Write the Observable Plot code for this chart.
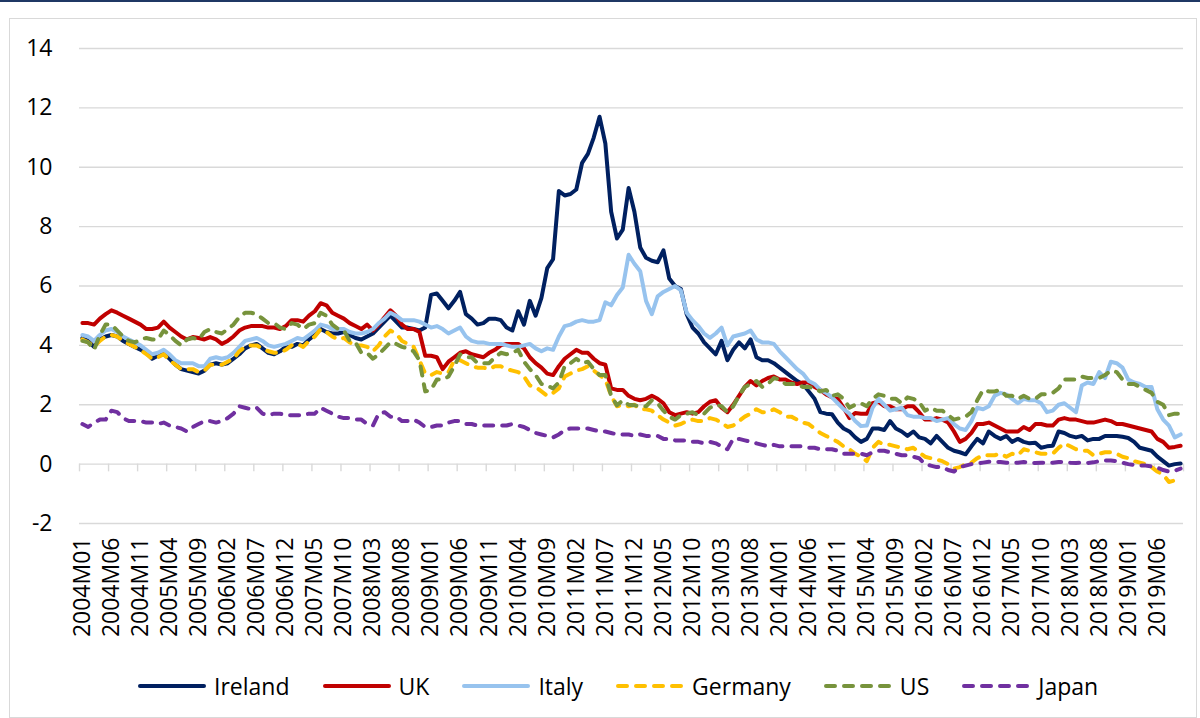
<!DOCTYPE html>
<html>
<head>
<meta charset="utf-8">
<script src="https://cdn.jsdelivr.net/npm/d3@7"></script>
<script src="https://cdn.jsdelivr.net/npm/@observablehq/plot@0.6"></script>
<style>
  html, body { margin: 0; padding: 0; background: #fff; overflow: hidden; }
  #wrap { position: relative; width: 1200px; height: 718px; font-family: "Open Sans", sans-serif; }
  #topbar { position: absolute; left: 0; top: 0; width: 1200px; height: 2px; background: #1F3864; }
  #frame { position: absolute; left: 9px; top: 18px; width: 1188px; height: 700px; border: 1.5px solid #D9D9D9; box-sizing: border-box; }
  #chart { position: absolute; left: 0; top: 0; }
  #legend { position: absolute; left: 137px; top: 670px; display: flex; align-items: center; font-size: 23px; color: #000; }
  .item { display: flex; align-items: center; margin-right: 32px; }
  .item svg { margin-right: 7px; }
</style>
</head>
<body>
<div id="wrap">
  <div id="topbar"></div>
  <div id="frame"></div>
  <div id="chart"></div>
  <div id="legend"></div>
</div>
<script>
// ---- Data: monthly 10-year government bond yields, 2004M01 .. 2019M10 ----
const startYear = 2004;
const nMonths = 190;
const months = [];
for (let k = 0; k < nMonths; k++) {
  const y = startYear + Math.floor(k / 12), m = (k % 12) + 1;
  months.push(`${y}M${String(m).padStart(2, "0")}`);
}

const xTickLabels = ["2004M01","2004M06","2004M11","2005M04","2005M09","2006M02","2006M07","2006M12",
  "2007M05","2007M10","2008M03","2008M08","2009M01","2009M06","2009M11","2010M04","2010M09","2011M02",
  "2011M07","2011M12","2012M05","2012M10","2013M03","2013M08","2014M01","2014M06","2014M11","2015M04",
  "2015M09","2016M02","2016M07","2016M12","2017M05","2017M10","2018M03","2018M08","2019M01","2019M06"];
const yTicks = [-2, 0, 2, 4, 6, 8, 10, 12, 14];

const ireland = [
  4.25,4.15,3.95,4.2,4.3,4.35,4.3,4.15,4.05,3.95,3.85,3.75,
  3.55,3.65,3.7,3.55,3.35,3.2,3.15,3.1,3.05,3.15,3.35,3.4,
  3.35,3.4,3.55,3.7,3.9,4.0,4.05,3.9,3.75,3.7,3.8,3.95,
  3.95,4.05,4.0,4.2,4.35,4.55,4.45,4.4,4.4,4.45,4.35,4.25,
  4.2,4.3,4.4,4.6,4.8,5.0,4.8,4.6,4.6,4.55,4.5,4.6,
  5.7,5.75,5.5,5.25,5.5,5.8,5.05,4.9,4.7,4.75,4.9,4.9,
  4.85,4.6,4.5,5.15,4.7,5.5,5.0,5.6,6.6,6.9,9.2,9.05,
  9.1,9.25,10.15,10.45,11.0,11.7,10.8,8.5,7.6,7.9,9.3,8.5,
  7.3,6.95,6.85,6.8,7.2,6.25,6.0,5.9,5.05,4.6,4.4,4.1,
  3.9,3.7,4.15,3.5,3.85,4.1,3.9,4.2,3.6,3.5,3.5,3.4,
  3.25,3.1,2.95,2.8,2.7,2.45,2.2,1.75,1.7,1.68,1.4,1.2,
  1.1,0.9,0.75,0.85,1.2,1.2,1.15,1.45,1.2,1.1,0.95,1.1,
  0.9,0.85,0.7,0.95,0.75,0.55,0.45,0.4,0.33,0.6,0.85,0.7,
  1.1,0.95,0.85,0.95,0.75,0.85,0.75,0.7,0.72,0.55,0.6,0.62,
  1.1,1.05,0.95,0.9,0.95,0.8,0.85,0.85,0.95,0.95,0.95,0.92,
  0.88,0.75,0.55,0.5,0.45,0.25,0.1,-0.05,0.0,0.02
];
const uk = [
  4.75,4.75,4.7,4.9,5.05,5.18,5.1,5.0,4.9,4.8,4.7,4.55,
  4.55,4.6,4.8,4.6,4.45,4.3,4.2,4.28,4.25,4.2,4.28,4.2,
  4.05,4.15,4.3,4.5,4.6,4.65,4.65,4.65,4.6,4.6,4.55,4.65,
  4.85,4.85,4.8,5.0,5.15,5.42,5.35,5.1,5.0,4.9,4.75,4.65,
  4.55,4.7,4.5,4.7,4.95,5.18,5.0,4.7,4.55,4.55,4.45,3.65,
  3.65,3.6,3.2,3.45,3.6,3.75,3.8,3.7,3.65,3.6,3.75,3.85,
  4.0,4.05,4.05,4.05,3.9,3.6,3.4,3.25,3.05,3.0,3.3,3.55,
  3.7,3.85,3.75,3.75,3.55,3.4,3.35,2.55,2.5,2.5,2.3,2.2,
  2.15,2.2,2.3,2.2,2.05,1.75,1.65,1.7,1.75,1.7,1.75,1.95,
  2.1,2.15,1.9,1.75,2.0,2.3,2.6,2.8,2.65,2.8,2.9,2.95,
  2.85,2.85,2.75,2.7,2.75,2.75,2.6,2.5,2.35,2.25,2.2,1.9,
  1.55,1.72,1.7,1.7,2.05,2.1,1.95,1.95,1.85,1.85,1.95,1.95,
  1.75,1.5,1.5,1.55,1.5,1.4,1.1,0.75,0.85,1.05,1.35,1.35,
  1.4,1.3,1.2,1.1,1.1,1.1,1.25,1.15,1.35,1.35,1.3,1.3,
  1.5,1.55,1.5,1.5,1.45,1.4,1.4,1.45,1.5,1.45,1.35,1.35,
  1.3,1.25,1.2,1.15,1.1,0.85,0.75,0.55,0.58,0.62
];
const italy = [
  4.35,4.3,4.15,4.35,4.5,4.55,4.45,4.3,4.2,4.1,4.0,3.85,
  3.7,3.75,3.85,3.7,3.5,3.4,3.4,3.4,3.3,3.3,3.55,3.6,
  3.55,3.6,3.75,3.95,4.15,4.2,4.25,4.15,4.0,3.95,4.0,4.05,
  4.15,4.25,4.2,4.35,4.5,4.7,4.65,4.55,4.55,4.55,4.45,4.4,
  4.4,4.45,4.55,4.75,4.9,5.1,5.0,4.85,4.85,4.85,4.8,4.7,
  4.6,4.65,4.55,4.4,4.5,4.6,4.3,4.15,4.1,4.1,4.05,4.05,
  4.05,4.0,3.95,3.95,4.0,4.05,3.9,3.8,3.9,3.85,4.3,4.65,
  4.7,4.8,4.85,4.8,4.8,4.85,5.45,5.35,5.7,5.95,7.05,6.75,
  6.5,5.5,5.05,5.65,5.8,5.9,6.0,5.85,5.1,4.85,4.65,4.4,
  4.25,4.4,4.6,4.0,4.3,4.35,4.4,4.5,4.2,4.1,4.1,4.05,
  3.8,3.6,3.4,3.2,3.05,2.8,2.7,2.5,2.4,2.25,2.05,1.85,
  1.7,1.45,1.28,1.3,1.9,2.2,2.0,1.8,1.85,1.9,1.65,1.6,
  1.6,1.55,1.55,1.45,1.5,1.55,1.35,1.2,1.15,1.45,1.9,1.85,
  1.95,2.3,2.4,2.35,2.2,2.05,2.2,2.15,2.15,2.05,1.75,1.8,
  2.0,2.05,1.9,1.75,2.65,2.75,2.7,3.1,2.9,3.45,3.4,3.25,
  2.85,2.75,2.7,2.6,2.6,1.85,1.5,1.3,0.9,1.0
];
const germany = [
  4.2,4.1,3.95,4.15,4.3,4.35,4.3,4.15,4.05,3.95,3.85,3.7,
  3.55,3.6,3.7,3.5,3.35,3.2,3.2,3.2,3.1,3.15,3.35,3.35,
  3.35,3.45,3.55,3.8,3.95,4.0,4.0,3.9,3.8,3.75,3.75,3.85,
  4.0,4.05,3.95,4.15,4.3,4.55,4.45,4.3,4.2,4.25,4.1,4.0,
  4.0,3.95,3.8,4.0,4.3,4.5,4.4,4.15,4.05,3.95,3.5,3.05,
  3.0,3.1,3.05,3.1,3.5,3.5,3.4,3.3,3.25,3.25,3.2,3.3,
  3.3,3.2,3.15,3.1,2.95,2.65,2.6,2.45,2.3,2.4,2.55,2.95,
  3.05,3.15,3.2,3.3,3.15,3.0,2.85,2.3,1.95,2.0,1.95,2.0,
  1.85,1.85,1.8,1.65,1.5,1.4,1.3,1.35,1.45,1.5,1.45,1.45,
  1.55,1.5,1.4,1.25,1.3,1.45,1.6,1.7,1.85,1.75,1.75,1.85,
  1.75,1.6,1.6,1.5,1.4,1.35,1.2,1.05,0.95,0.85,0.75,0.6,
  0.5,0.35,0.25,0.1,0.55,0.75,0.65,0.65,0.6,0.55,0.5,0.55,
  0.4,0.25,0.2,0.15,0.1,0.0,-0.15,-0.1,0.0,0.05,0.2,0.3,
  0.3,0.3,0.35,0.25,0.35,0.3,0.5,0.45,0.4,0.35,0.35,0.35,
  0.55,0.7,0.6,0.5,0.45,0.45,0.3,0.35,0.4,0.4,0.35,0.25,
  0.2,0.1,0.05,0.0,-0.1,-0.25,-0.35,-0.6,-0.55,-0.45
];
const us = [
  4.15,4.1,3.85,4.35,4.7,4.7,4.5,4.3,4.15,4.1,4.2,4.25,
  4.2,4.2,4.5,4.35,4.15,4.0,4.2,4.25,4.2,4.45,4.55,4.45,
  4.4,4.55,4.7,4.95,5.1,5.1,5.05,4.9,4.75,4.75,4.6,4.55,
  4.75,4.7,4.55,4.7,4.75,5.1,5.0,4.7,4.55,4.5,4.15,4.1,
  3.75,3.75,3.55,3.7,3.9,4.1,4.05,3.95,3.9,3.8,3.5,2.45,
  2.5,2.85,2.85,2.95,3.3,3.7,3.6,3.6,3.4,3.4,3.4,3.6,
  3.75,3.7,3.75,3.85,3.45,3.2,3.0,2.7,2.65,2.55,2.75,3.3,
  3.4,3.55,3.4,3.45,3.2,3.0,3.0,2.3,1.98,2.15,2.0,1.98,
  1.95,1.95,2.15,2.05,1.8,1.6,1.5,1.65,1.7,1.75,1.65,1.7,
  1.9,2.0,1.95,1.75,1.95,2.3,2.6,2.7,2.8,2.6,2.7,2.9,
  2.85,2.7,2.7,2.7,2.6,2.6,2.55,2.45,2.5,2.3,2.35,2.2,
  1.9,2.0,2.05,1.95,2.2,2.35,2.3,2.2,2.2,2.05,2.25,2.2,
  2.1,1.8,1.9,1.8,1.8,1.65,1.5,1.55,1.6,1.75,2.15,2.5,
  2.45,2.45,2.5,2.3,2.3,2.2,2.3,2.2,2.2,2.35,2.35,2.4,
  2.55,2.85,2.85,2.85,2.95,2.9,2.9,2.9,3.0,3.15,3.1,2.85,
  2.7,2.7,2.6,2.5,2.4,2.1,2.0,1.65,1.7,1.7
];
const japan = [
  1.35,1.25,1.4,1.5,1.5,1.8,1.75,1.55,1.45,1.45,1.45,1.4,
  1.4,1.35,1.4,1.3,1.25,1.2,1.1,1.25,1.35,1.45,1.45,1.4,
  1.45,1.55,1.7,1.95,1.9,1.85,1.9,1.7,1.65,1.7,1.7,1.65,
  1.65,1.65,1.65,1.7,1.7,1.9,1.8,1.7,1.6,1.55,1.55,1.5,
  1.5,1.35,1.3,1.7,1.75,1.6,1.6,1.45,1.45,1.5,1.4,1.25,
  1.25,1.3,1.3,1.4,1.45,1.45,1.35,1.35,1.3,1.3,1.3,1.3,
  1.3,1.3,1.35,1.3,1.25,1.15,1.05,1.0,0.95,0.9,1.0,1.15,
  1.2,1.2,1.2,1.2,1.15,1.1,1.1,1.05,1.0,1.0,1.0,0.95,
  1.0,0.95,0.95,0.95,0.85,0.85,0.8,0.8,0.8,0.75,0.75,0.7,
  0.75,0.7,0.6,0.5,0.85,0.85,0.8,0.75,0.7,0.65,0.6,0.65,
  0.6,0.6,0.6,0.6,0.6,0.55,0.55,0.5,0.5,0.5,0.45,0.35,
  0.35,0.35,0.35,0.3,0.4,0.45,0.45,0.4,0.35,0.3,0.3,0.25,
  0.2,0.0,-0.05,-0.1,-0.1,-0.2,-0.25,-0.1,-0.05,0.0,0.02,0.05,
  0.08,0.08,0.07,0.05,0.04,0.05,0.07,0.05,0.04,0.05,0.05,0.05,
  0.07,0.07,0.05,0.04,0.05,0.04,0.06,0.1,0.12,0.12,0.1,0.05,
  0.0,-0.03,-0.05,-0.05,-0.08,-0.12,-0.2,-0.25,-0.22,-0.15
];

const seriesNames = ["Ireland", "UK", "Italy", "Germany", "US", "Japan"];
const seriesValues = [ireland, uk, italy, germany, us, japan];
const seriesColors = ["#002060", "#C00000", "#97C3EE", "#FFC000", "#77933C", "#7030A0"];
const seriesDashed = [false, false, false, true, true, true];

// ---- Build chart ----
const DASH = "9,9";
const LW = 4;
const rows = seriesNames.map((name, s) =>
  seriesValues[s].map((v, k) => ({ pos: k + 0.5, month: months[k], value: v, name })));
const boundaries = d3.range(0, nMonths + 1, 5);
const labelPos = xTickLabels.map(l => months.indexOf(l) + 0.5);
const labelByPos = new Map(labelPos.map((p, j) => [p, xTickLabels[j]]));

const chart = Plot.plot({
  width: 1200,
  height: 660,
  marginLeft: 79,
  marginRight: 17,
  marginTop: 48,
  marginBottom: 137,
  x: { domain: [0, nMonths], axis: null },
  y: { domain: [-2, 14], axis: null },
  style: { fontFamily: "Open Sans, sans-serif", fontSize: "23px", color: "#000", background: "transparent" },
  marks: [
    Plot.ruleY(yTicks, { stroke: "#D9D9D9", strokeWidth: 1.4 }),
    Plot.ruleX(boundaries, { x: d => d, y1: 0, y2: -0.26, stroke: "#D9D9D9", strokeWidth: 1.4 }),
    Plot.axisY({ ticks: yTicks, tickFormat: d => String(d), tickSize: 0, tickPadding: 27,
                 fontSize: 23, textAnchor: "end", label: null }),
    Plot.axisX({ ticks: labelPos, tickFormat: p => labelByPos.get(p), tickSize: 0, tickPadding: 14,
                 tickRotate: -90, fontSize: 23, anchor: "bottom", label: null }),
    ...rows.map((data, s) => Plot.line(data, {
      x: "pos", y: "value",
      stroke: seriesColors[s],
      strokeWidth: LW,
      strokeDasharray: seriesDashed[s] ? DASH : null,
      strokeLinecap: "round",
      strokeLinejoin: "round"
    }))
  ]
});
document.getElementById("chart").appendChild(chart);

// ---- Legend ----
const legend = document.getElementById("legend");
seriesNames.forEach((name, s) => {
  const item = document.createElement("div");
  item.className = "item";
  const dash = seriesDashed[s] ? `stroke-dasharray="${DASH}"` : "";
  item.innerHTML = `<svg width="70" height="12"><line x1="3" y1="6" x2="67" y2="6" stroke="${seriesColors[s]}" stroke-width="${LW}" stroke-linecap="round" ${dash}/></svg><span>${name}</span>`;
  legend.appendChild(item);
});
</script>
</body>
</html>
